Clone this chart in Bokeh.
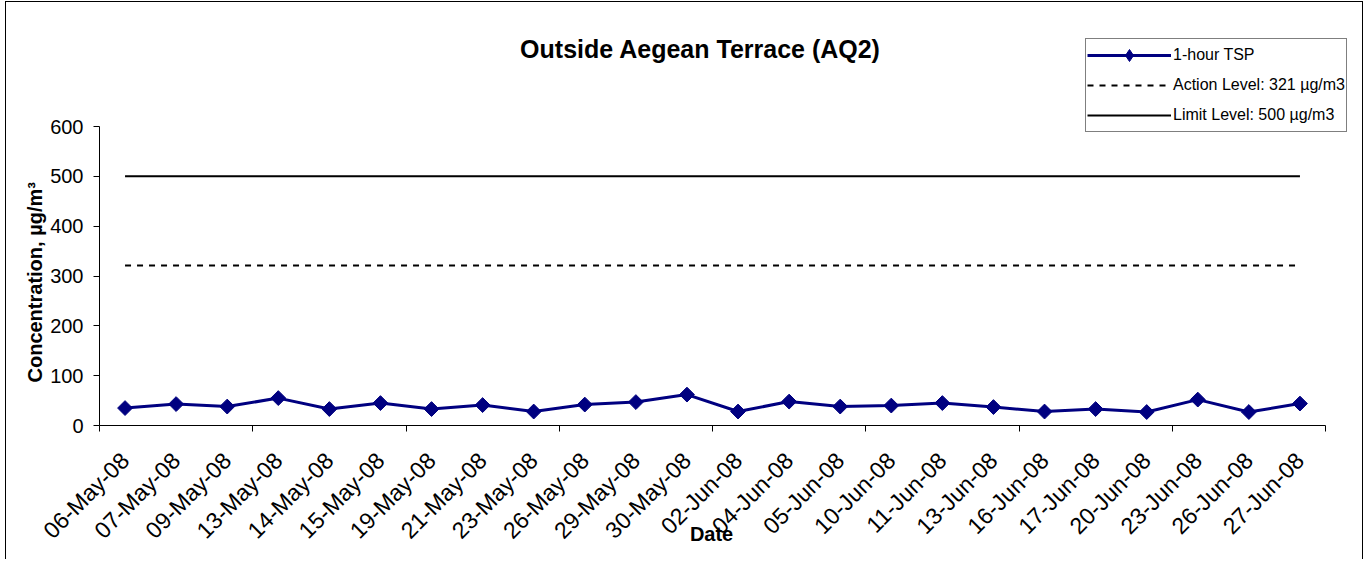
import numpy as np
from bokeh.plotting import figure
from bokeh.models import (Range1d, LinearAxis, FixedTicker, Legend, LegendItem,
                          Label, Title, ColumnDataSource)
from bokeh.embed import file_html
from bokeh.resources import INLINE

# ---------------- data ----------------
dates = ["06-May-08", "07-May-08", "09-May-08", "13-May-08", "14-May-08",
         "15-May-08", "19-May-08", "21-May-08", "23-May-08", "26-May-08",
         "29-May-08", "30-May-08", "02-Jun-08", "04-Jun-08", "05-Jun-08",
         "10-Jun-08", "11-Jun-08", "13-Jun-08", "16-Jun-08", "17-Jun-08",
         "20-Jun-08", "23-Jun-08", "26-Jun-08", "27-Jun-08"]
tsp_1hr = [35, 43, 38, 55, 33, 45, 33, 41, 28, 42, 47, 62,
           28, 48, 38, 40, 45, 37, 28, 33, 27, 52, 27, 44]
action_level = 321
limit_level = 500
y_ticks = [0, 100, 200, 300, 400, 500, 600]
y_max_axis = 600
x_boundary_step = 3

FONT = "Liberation Sans"
NAVY = "#000080"

n = len(dates)
# category slots: each date occupies one unit, centred at i + 0.5
slot_centres = [i + 0.5 for i in range(n)]
src = ColumnDataSource(dict(x=slot_centres, date=dates, tsp=tsp_1hr,
                            action=[action_level] * n, limit=[limit_level] * n))

# geometry (page pixels): axis area from x=99..1325, y=126(600)..425(0)
AX_L, AX_R, AX_T, AX_B = 99, 1325, 126, 425
MARGIN_L, MARGIN_T = 5, 1          # page offset of the outer border
BORDER = 1
FRAME_TOP = MARGIN_T + BORDER      # frame begins right at the top of the canvas
FRAME_RIGHT = 1362
px_per_x = (AX_R - AX_L) / n
px_per_y = (AX_B - AX_T) / y_max_axis

frame_w = FRAME_RIGHT - AX_L
frame_h = AX_B - FRAME_TOP
x_end = frame_w / px_per_x
y_end = frame_h / px_per_y

p = figure(x_range=Range1d(0, x_end), y_range=Range1d(0, y_end),
           frame_width=frame_w, frame_height=frame_h,
           min_border_left=AX_L - MARGIN_L - BORDER, min_border_right=0,
           min_border_top=0, min_border_bottom=134,
           x_axis_type=None, output_backend="svg", toolbar_location=None)
p.styles = {"border-left": "1px solid black", "border-top": "1px solid black",
            "border-right": "1px solid black",
            "margin-left": f"{MARGIN_L}px", "margin-top": f"{MARGIN_T}px"}
p.outline_line_color = None
p.ygrid.visible = False
p.background_fill_color = "white"
p.border_fill_color = "white"

# y axis
ya = p.yaxis[0]
ya.ticker = FixedTicker(ticks=y_ticks)
ya.bounds = (0, y_max_axis)
ya.minor_tick_line_color = None
ya.major_tick_in = 0
ya.major_tick_out = 6
ya.axis_line_color = "black"
ya.major_tick_line_color = "black"
ya.major_label_text_font = FONT
ya.major_label_text_font_size = "20px"
ya.major_label_text_color = "black"
ya.major_label_standoff = 10

# y axis title: placed on the left, starting 43px above the 0 line
y_title = Title(text="Concentration, µg/m³", align="left",
                offset=AX_B - 382, standoff=4,
                text_font=FONT, text_font_style="bold", text_font_size="20px",
                text_color="black")
p.add_layout(y_title, "left")

# x axis: boundary ticks (every 3 categories) + category labels
tick_axis = LinearAxis(ticker=FixedTicker(ticks=list(range(0, n + 1, x_boundary_step))),
                       bounds=(0, n),
                       major_label_text_font_size="0px",
                       major_label_text_color=None,
                       major_label_standoff=0,
                       major_tick_in=0, major_tick_out=6,
                       minor_tick_line_color=None,
                       axis_line_color="black", major_tick_line_color="black")
p.add_layout(tick_axis, "below")
# the axis title is centred on the (wider) frame; pad it so that "Date"
# sits under the centre of the axis itself
label_axis = LinearAxis(ticker=FixedTicker(ticks=slot_centres),
                        bounds=(0, n),
                        major_label_overrides={c: d for c, d in zip(slot_centres, dates)},
                        axis_line_color=None, major_tick_line_color=None,
                        minor_tick_line_color=None,
                        major_label_orientation=np.pi / 4,
                        major_label_standoff=19,
                        major_label_text_font=FONT,
                        major_label_text_font_size="23px",
                        major_label_text_color="black",
                        axis_label="Date" + "\u00a0" * 7,
                        axis_label_text_font=FONT,
                        axis_label_text_font_style="bold",
                        axis_label_text_font_size="20px",
                        axis_label_text_color="black",
                        axis_label_standoff=-33)
p.add_layout(label_axis, "below")

# series
r_line = p.line("x", "tsp", source=src, line_color=NAVY, line_width=3)
r_mark = p.scatter("x", "tsp", source=src, marker="square", angle=np.pi / 4,
                   size=10.5, fill_color=NAVY, line_color=NAVY)
r_action = p.line("x", "action", source=src, line_color="black", line_width=2,
                  line_dash="6 6")
r_limit = p.line("x", "limit", source=src, line_color="black", line_width=2)
# hidden diamond renderer used only for the legend swatch
r_key = p.scatter("x", "tsp", source=src, marker="diamond", fill_color=NAVY,
                  line_color=NAVY, visible=False)

# legend (inside the enlarged frame, top right)
legend = Legend(items=[
    LegendItem(label="1-hour TSP", renderers=[r_line, r_key]),
    LegendItem(label="Action Level: 321 µg/m3", renderers=[r_action]),
    LegendItem(label="Limit Level: 500 µg/m3", renderers=[r_limit]),
], location=(1085 - AX_L, AX_B - 132), orientation="vertical",
    label_text_font=FONT, label_text_font_size="16px", label_text_color="black",
    glyph_width=84, glyph_height=30, label_height=30, label_standoff=2,
    spacing=-2, padding=1, margin=0,
    inactive_fill_alpha=0,
    border_line_color="black", border_line_width=1,
    background_fill_color="white", background_fill_alpha=1)
p.add_layout(legend, "center")

title = Label(x=(700 - AX_L) / px_per_x, y=(AX_B - 48) / px_per_y,
              text="Outside Aegean Terrace (AQ2)",
              text_align="center", text_baseline="middle", text_font=FONT,
              text_font_size="25px", text_font_style="bold", text_color="black")
p.add_layout(title)

open("out.html", "w").write(file_html(p, INLINE))
